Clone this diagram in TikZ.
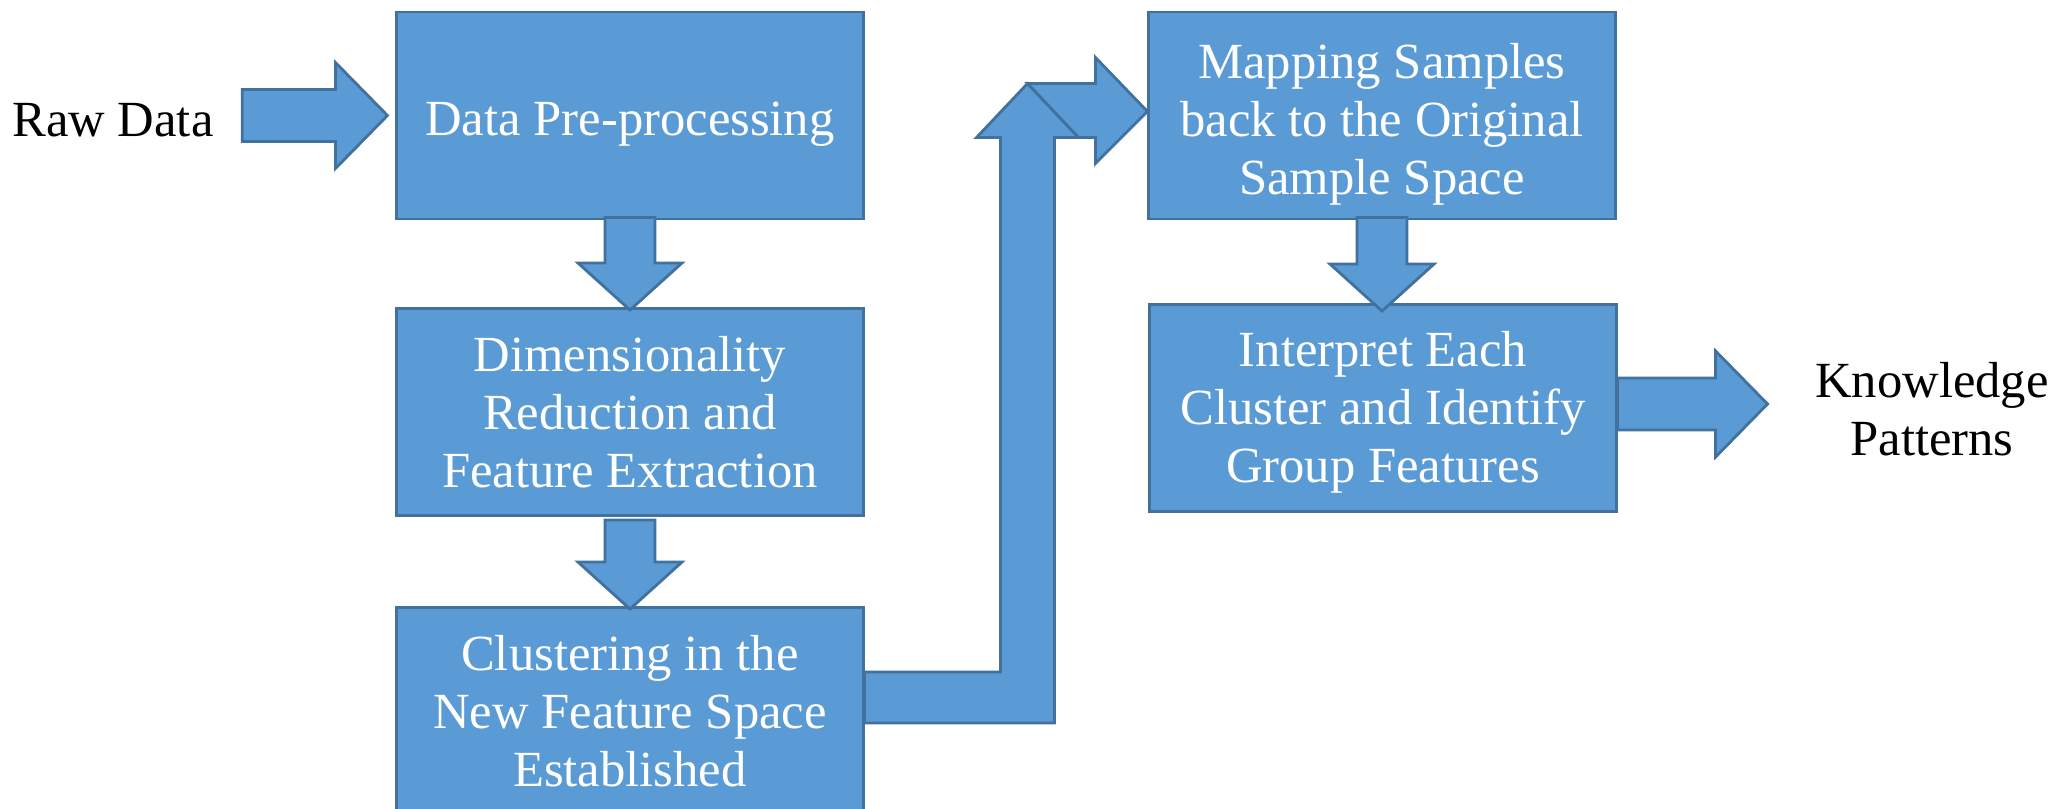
\documentclass[tikz,border=0pt]{standalone}
\usepackage{fontspec}
\setmainfont{Liberation Serif}
\usetikzlibrary{calc}
\definecolor{boxblue}{HTML}{5B9BD5}
\definecolor{edgeblue}{HTML}{41719C}

% block arrow pointing right: #1 tail, #2 tip (same height)
\newcommand\rightfat[2]{%
  \draw[fatarrow] ($(#1)+(0,-26)$) -- ($(#2)+(-52,-26)$) -- ($(#2)+(-52,-53)$)
    -- (#2) -- ($(#2)+(-52,53)$) -- ($(#2)+(-52,26)$) -- ($(#1)+(0,26)$) -- cycle;}
% block arrow pointing down: #1 tail, #2 tip (same column)
\newcommand\downfat[2]{%
  \draw[fatarrow] ($(#1)+(-25,0)$) -- ($(#2)+(-25,-47)$) -- ($(#2)+(-52,-47)$)
    -- (#2) -- ($(#2)+(52,-47)$) -- ($(#2)+(25,-47)$) -- ($(#1)+(25,0)$) -- cycle;}
% invisible strut that pushes a text block down a little
\newcommand\topstrut[1]{\rule{0pt}{#1}}

\begin{document}
\begin{tikzpicture}[x=0.01cm,y=-0.01cm,
  stepbox/.style={draw=edgeblue, fill=boxblue, line width=0.8pt, text=white,
    minimum width=4.66cm, minimum height=2.07cm, align=center, inner sep=0pt,
    font=\fontsize{14.4}{16.5}\selectfont},
  plaintext/.style={align=center, inner sep=0pt, font=\fontsize{14.4}{16.5}\selectfont},
  fatarrow/.style={draw=edgeblue, fill=boxblue, line width=0.8pt, line join=miter}]

\useasboundingbox (0,0) rectangle (2054,809);

% process steps
\node[stepbox] (pre) at (630,115.5) {\topstrut{14.2pt}Data Pre-processing};
\node[stepbox] (dim) at (630,412) {Dimensionality\\Reduction and\\Feature Extraction};
\node[stepbox] (clu) at (630,711) {Clustering in the\\New Feature Space\\Established};
\node[stepbox] (map) at (1382,115.5) {\topstrut{15pt}Mapping Samples\\back to the Original\\Sample Space};
\node[stepbox] (int) at (1383,408) {\topstrut{12.6pt}Interpret Each\\Cluster and Identify\\Group Features};

% input and output labels
\node[plaintext] (raw) at (113,120) {Raw Data};
\node[plaintext] (know) at (1932,409) {Knowledge\\Patterns};

% Raw Data -> pre-processing
\coordinate (rawtail) at ($(raw.east |- pre.west)+(28,0)$);
\coordinate (rawtip) at ($(pre.west)+(-8,0)$);
\rightfat{rawtail}{rawtip}

% vertical steps
\coordinate (d1a) at ($(pre.south)+(0,-3)$);
\coordinate (d1b) at ($(d1a |- dim.north)+(0,3)$);
\downfat{d1a}{d1b}
\coordinate (d2a) at ($(dim.south)+(0,3)$);
\coordinate (d2b) at ($(d2a |- clu.north)+(0,3)$);
\downfat{d2a}{d2b}
\coordinate (d3a) at ($(map.south)+(0,-3)$);
\coordinate (d3b) at ($(d3a |- int.north)+(0,8)$);
\downfat{d3a}{d3b}

% interpretation -> knowledge patterns
\coordinate (ktail) at ($(int.east)+(0,-4)$);
\coordinate (ktip) at ($(ktail)+(150,0)$);
\rightfat{ktail}{ktip}

% bent arrow from clustering up to mapping
\coordinate (bstart) at ($(clu.east)+(0,-14)$);
\coordinate (riser) at ($(bstart)+(163,0)$);
\coordinate (rtip) at ($(map.west)+(0,-4)$);
\coordinate (uptip) at ($(riser |- rtip)+(0,-28)$);
\draw[fatarrow] ($(bstart)+(0,-25)$) -- ($(riser)+(-27,-25)$) -- ($(uptip)+(-27,54)$)
  -- ($(uptip)+(-51,54)$) -- (uptip) -- ($(uptip)+(51,54)$) -- ($(uptip)+(27,54)$)
  -- ($(riser)+(27,26)$) -- ($(bstart)+(0,26)$) -- cycle;
\draw[fatarrow] (uptip) -- ($(rtip)+(-52,-28)$) -- ($(rtip)+(-52,-54)$) -- (rtip)
  -- ($(rtip)+(-52,52)$) -- ($(rtip)+(-52,26)$) -- ($(uptip)+(51,54)$) -- cycle;

\end{tikzpicture}
\end{document}
